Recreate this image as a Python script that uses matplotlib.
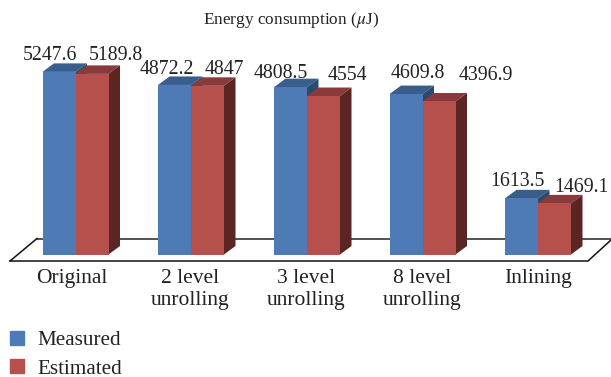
import matplotlib
matplotlib.use("Agg")
import matplotlib.pyplot as plt
from matplotlib.patches import Polygon, Patch

categories = ["Original", "2 level\nunrolling", "3 level\nunrolling", "8 level\nunrolling", "Inlining"]
measured = [5247.6, 4872.2, 4808.5, 4609.8, 1613.5]
estimated = [5189.8, 4847, 4554, 4396.9, 1469.1]

plt.rcParams["font.family"] = ["Liberation Serif", "DejaVu Serif"]
plt.rcParams["mathtext.fontset"] = "stix"

W, H = 611, 377
BASE_Y = 254.5   # pixel row of the bar feet
SCALE = 0.0348   # pixels per unit
DX, DY = 11.5, 8.5  # fake 3d depth in pixels
BAR_W = 33

fig = plt.figure(figsize=(W / 100, H / 100), dpi=100)
ax = fig.add_axes([0, 0, 1, 1])
ax.set_xlim(0, W)
ax.set_ylim((BASE_Y - H) / SCALE, BASE_Y / SCALE)
ax.axis("off")


# pixel row -> value axis
def vy(py):
    return (BASE_Y - py) / SCALE


dv = DY / SCALE

# floor
ax.plot([37, 611], [vy(238.5), vy(238.5)], color="#222222", lw=1.1, zorder=1)
ax.plot([10, 37], [vy(261), vy(238.5)], color="#111111", lw=1.1, zorder=1)
ax.plot([10, 588, 611], [vy(261), vy(261), vy(240)], color="#111111", lw=1.1, zorder=1)


def bar3d(x, v, front, top, side, z):
    ax.bar(x, v, width=BAR_W, color=front, align="edge", zorder=z + 1)
    ax.add_patch(Polygon([(x, v), (x + BAR_W, v), (x + BAR_W + DX, v + dv), (x + DX, v + dv)],
                         color=top, lw=0, zorder=z))
    ax.add_patch(Polygon([(x + BAR_W, 0), (x + BAR_W + DX, dv), (x + BAR_W + DX, v + dv), (x + BAR_W, v)],
                         color=side, lw=0, zorder=z))


group_left = [42.5, 158, 274, 389.5, 505]
for i, left in enumerate(group_left):
    bar3d(left, measured[i], "#4E7BB5", "#395E8B", "#2B4A70", 2)
    bar3d(left + BAR_W, estimated[i], "#B5504D", "#8A3A3A", "#5B2524", 4)

# value labels, placed by hand like in the original
measured_label_x = [49.5, 167, 281, 418, 517.5]
measured_label_y = [55, 69, 73, 74, 182]
estimated_label_x = [116, 224.5, 347, 486, 581.5]
estimated_label_y = [55, 69, 76, 75, 187]
for i in range(5):
    ax.text(measured_label_x[i], vy(measured_label_y[i]), f"{measured[i]:g}", fontsize=14.3,
            ha="center", va="center", color="#222222", zorder=8)
    ax.text(estimated_label_x[i], vy(estimated_label_y[i]), f"{estimated[i]:g}", fontsize=14.3,
            ha="center", va="center", color="#222222", zorder=8)

# category labels
cat_x = [72, 190, 306, 422, 538]
for x, c in zip(cat_x, categories):
    ax.text(x, vy(269), c, fontsize=15.5, ha="center", va="top", color="#222222", linespacing=1.2)

ax.text(291, vy(20), r"Energy consumption ($\mu$J)", fontsize=12.4, ha="center", va="center", color="#222222")

handles = [Patch(color="#4E7BB5", label="Measured"), Patch(color="#B5504D", label="Estimated")]
ax.legend(handles=handles, loc="lower left", bbox_to_anchor=(10 / W, -1.5 / H), borderaxespad=0, borderpad=0,
          frameon=False, fontsize=15.2, handlelength=0.66, handleheight=0.66, handletextpad=0.62,
          labelspacing=0.42, labelcolor="#222222")

fig.savefig("out.png", dpi=100)
